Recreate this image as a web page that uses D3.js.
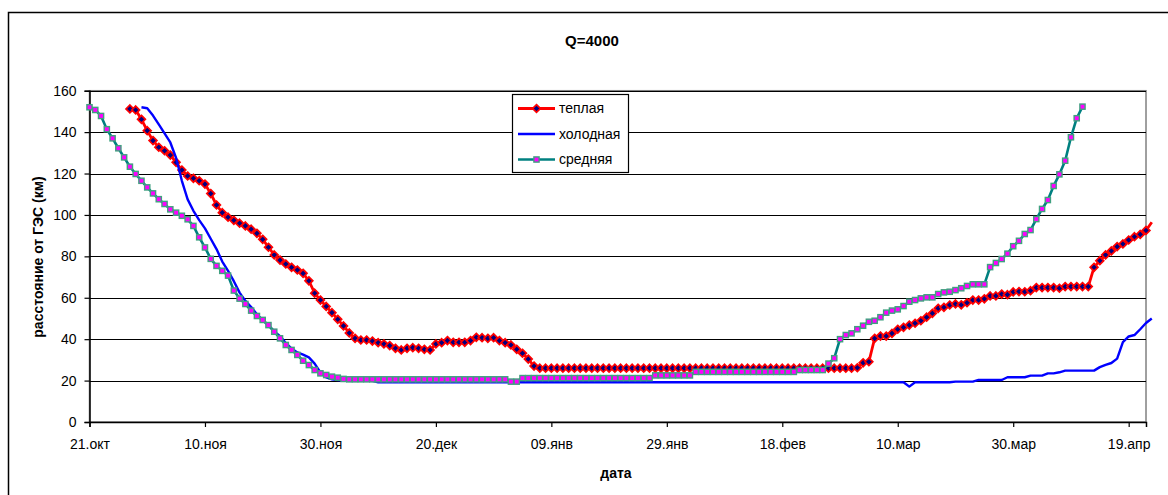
<!DOCTYPE html>
<html><head><meta charset="utf-8">
<script src="https://cdn.jsdelivr.net/npm/d3@7"></script>
<style>
body{margin:0;background:#fff}
svg{display:block}
text{font-family:"Liberation Sans",Arial,sans-serif;fill:#000}
</style>
</head><body>
<svg id="chart" width="1168" height="495"></svg>
<script>
// ---------- data ----------
const axisStart = "2006-10-21";
const axisDays = 183;
const tickLabels = ["21.окт","10.ноя","30.ноя","20.дек","09.янв","29.янв","18.фев","10.мар","30.мар","19.апр"];
const yTicks = [0,20,40,60,80,100,120,140,160];
const seriesNames = ["теплая","холодная","средняя"];

const warmStart = "2006-10-28";
const warm = [
151.2,150.7,146.2,140.7,135.9,132.7,131.0,128.9,125.4,121.7,
118.8,117.7,116.5,114.9,110.3,104.8,101.1,98.9,97.4,96.0,
94.7,93.1,91.1,88.2,84.4,80.7,78.2,76.3,74.7,73.4,
71.8,68.2,62.2,58.9,55.8,52.8,49.6,46.4,43.0,40.4,
39.6,39.6,39.1,38.3,37.7,36.9,35.6,34.8,35.6,35.9,
35.6,35.1,34.8,37.7,38.3,39.3,38.5,38.5,38.5,39.3,
40.9,40.7,40.4,40.7,39.3,38.3,37.2,35.1,33.2,30.4,
27.0,
26.0,26.0,26.0,26.0,26.0,26.0,26.0,26.0,26.0,26.0,
26.0,26.0,26.0,26.0,26.0,26.0,26.0,26.0,26.0,26.0,
26.0,26.0,26.0,26.0,26.0,26.0,26.0,26.0,26.0,26.0,
26.0,26.0,26.0,26.0,26.0,26.0,26.0,26.0,26.0,26.0,
26.0,26.0,26.0,26.0,26.0,26.0,26.0,26.0,26.0,26.0,
26.0,26.0,26.0,26.0,26.0,
26.2,28.6,29.1,40.4,41.5,41.5,42.8,44.8,45.7,46.8,
47.7,48.9,50.6,52.5,54.9,55.4,56.5,57.0,56.6,57.6,
58.9,58.9,59.5,60.9,60.9,61.8,61.5,62.8,63.0,62.9,
63.4,64.9,64.9,64.9,64.9,64.6,65.4,65.4,65.4,65.4,
65.4,74.7,77.9,80.7,82.6,84.7,86.0,87.9,89.5,90.6,92.5,96.5
];

const coldStart = "2006-10-30";
const cold = [
152,151.5,148,143.7,139.4,135.0,127.5,116.5,107.5,102,
97.5,93.5,88.5,83.5,77.5,73,68,62.5,58.5,55.5,
52,49.2,46.6,43.8,41.5,38.2,35.5,33.6,32.5,31.2,
28.2,24.0,21.6,20.6,20.2,20.0,
19.9,19.9,19.9,19.9,19.9,
19.2,19.2,19.2,19.2,19.2,19.2,19.2,19.2,19.2,19.2,
19.2,19.2,19.2,19.2,19.2,19.2,19.2,19.2,19.2,19.2,
19.2,19.2,19.2,19.2,19.2,19.2,19.2,19.2,19.2,19.2,
19.2,19.2,19.2,19.2,19.2,19.2,19.2,19.2,19.2,19.2,
19.2,19.2,19.2,19.2,19.2,19.2,19.2,19.2,19.2,19.2,
19.2,19.2,19.2,19.2,19.2,19.2,19.2,19.2,19.2,19.2,
19.2,19.2,19.2,19.2,19.2,19.2,19.2,19.2,19.2,19.2,
19.2,19.2,19.2,19.2,19.2,19.2,19.2,19.2,19.2,19.2,
19.2,19.2,19.2,19.2,19.2,19.2,19.2,19.2,19.2,19.2,
19.2,19.2,
17.1,
19.2,19.2,19.2,19.2,19.2,19.2,19.2,
19.5,19.5,19.5,19.5,
20.3,20.3,20.3,20.3,20.3,
21.6,21.6,21.6,21.6,
22.4,22.4,22.4,
23.5,23.5,
24.0,
24.8,24.8,24.8,24.8,24.8,24.8,
26.5,27.6,28.5,30.6,38.6,41.3,42.0,44.8,47.8,50.0
];

const avgStart = "2006-10-21";
const avg = [
152.0,150.7,147.8,141.4,137.0,132.2,127.8,123.3,119.8,116.5,
113.3,110.4,107.6,105.3,102.7,101.1,99.6,97.9,94.7,89.2,
84.3,78.8,75.4,73.0,70.7,63.5,59.6,57.0,53.8,51.2,
49.3,46.8,43.6,40.4,37.2,34.8,32.4,29.6,27.5,25.1,
23.5,22.7,21.9,21.4,20.8,
20.6,20.6,20.6,20.6,20.6,20.6,20.6,20.6,20.6,20.6,
20.6,20.6,20.6,20.6,20.6,20.6,20.6,20.6,20.6,20.6,
20.6,20.6,20.6,20.6,20.6,20.6,20.6,20.6,
19.5,19.5,
21.2,21.2,21.2,21.2,21.2,21.2,21.2,21.2,21.2,21.2,
21.2,21.2,21.2,21.2,21.2,21.2,21.2,21.2,21.2,21.2,
21.2,21.2,21.2,
22.5,22.5,22.5,22.5,22.5,22.5,22.5,
24.2,24.2,24.2,24.2,24.2,24.2,24.2,24.2,24.2,24.2,
24.2,24.2,24.2,24.2,24.2,24.2,24.2,24.2,
25.1,25.1,25.1,25.1,25.1,
28.2,30.8,40.0,42.0,42.8,44.8,46.5,48.4,48.9,50.6,
52.8,53.8,54.4,56.0,58.1,58.9,59.7,60.2,60.2,61.8,
62.6,62.9,63.7,64.6,65.7,66.5,66.5,66.5,74.8,76.8,
78.7,81.3,84.9,87.5,90.8,92.7,98.0,102.9,107.2,114.0,
119.6,126.2,137.5,146.7,152.3
];

// ---------- drawing ----------
const svg = d3.select("#chart");
const parse = d3.utcParse("%Y-%m-%d");
const t0 = parse(axisStart);
const toSeries = (startStr, vals) => {
  const s = parse(startStr);
  return vals.map((v, i) => ({date: d3.utcDay.offset(s, i), v}));
};

const plot = {left: 89.5, right: 1146, top: 90.7, bottom: 422};
const x = d3.scaleUtc().domain([t0, d3.utcDay.offset(t0, axisDays)]).range([plot.left, plot.right]);
const y = d3.scaleLinear().domain([0, 160]).range([plot.bottom, plot.top]);
const FONT = "Liberation Sans, Arial, sans-serif";

// outer chart border
svg.append("rect").attr("x", 8.5).attr("y", 12.5).attr("width", 1200).attr("height", 520)
  .attr("fill", "#fff").attr("stroke", "#000").attr("stroke-width", 1.5);

// title
svg.append("text").attr("x", 592).attr("y", 46).attr("text-anchor", "middle")
  .attr("font-size", 15).attr("font-weight", "bold").text("Q=4000");

// plot area border (gray)
svg.append("rect").attr("x", plot.left).attr("y", plot.top)
  .attr("width", plot.right - plot.left).attr("height", plot.bottom - plot.top)
  .attr("fill", "none").attr("stroke", "#808080").attr("stroke-width", 1.5);

// gridlines
svg.append("g").selectAll("line").data(yTicks.filter(d => d > 0)).join("line")
  .attr("x1", plot.left).attr("x2", plot.right)
  .attr("y1", d => Math.round(y(d)) + 0.5).attr("y2", d => Math.round(y(d)) + 0.5)
  .attr("stroke", "#000").attr("stroke-width", 1.2);

// y axis
const yAxis = d3.axisLeft(y).tickValues(yTicks).tickSize(5).tickPadding(8).tickFormat(d3.format("d"));
const gy = svg.append("g").attr("transform", `translate(${plot.left},0)`).call(yAxis);
gy.select(".domain").attr("stroke", "#000").attr("stroke-width", 1.5);
gy.selectAll(".tick line").attr("stroke", "#000").attr("stroke-width", 1.2);
gy.selectAll(".tick text").attr("font-size", 14).attr("font-family", FONT).attr("fill", "#000");

// x axis
const xTickVals = tickLabels.map((_, i) => d3.utcDay.offset(t0, i * 20));
const xAxis = d3.axisBottom(x).tickValues(xTickVals).tickSize(5).tickPadding(12)
  .tickFormat((d, i) => tickLabels[i]);
const gx = svg.append("g").attr("transform", `translate(0,${plot.bottom})`).call(xAxis);
gx.select(".domain").attr("stroke", "#000").attr("stroke-width", 1.5);
gx.selectAll(".tick line").attr("stroke", "#000").attr("stroke-width", 1.2);
gx.selectAll(".tick text").attr("font-size", 14).attr("font-family", FONT).attr("fill", "#000");

// axis titles
svg.append("text").attr("transform", "translate(43,257) rotate(-90)").attr("text-anchor", "middle")
  .attr("font-size", 14).attr("font-weight", "bold").text("расстояние от ГЭС (км)");
svg.append("text").attr("x", 616).attr("y", 478).attr("text-anchor", "middle")
  .attr("font-size", 14).attr("font-weight", "bold").text("дата");

// series
const line = d3.line().x(d => x(d.date)).y(d => y(d.v));
const diamond = (cx, cy, r) => `M${cx},${cy - r}L${cx + r},${cy}L${cx},${cy + r}L${cx - r},${cy}Z`;

const warmData = toSeries(warmStart, warm);
const coldData = toSeries(coldStart, cold);
const avgData = toSeries(avgStart, avg);

// warm
svg.append("path").datum(warmData).attr("d", line).attr("fill", "none")
  .attr("stroke", "#ff0000").attr("stroke-width", 2.8).attr("stroke-linejoin", "round");
svg.append("g").selectAll("path").data(warmData.filter(d => x(d.date) <= plot.right)).join("path")
  .attr("d", d => diamond(x(d.date), y(d.v), 3.9))
  .attr("fill", "#000080").attr("stroke", "#ff0000").attr("stroke-width", 1.7);

// cold
svg.append("path").datum(coldData).attr("d", line).attr("fill", "none")
  .attr("stroke", "#0000ff").attr("stroke-width", 2.4).attr("stroke-linejoin", "round");

// avg
svg.append("path").datum(avgData).attr("d", line).attr("fill", "none")
  .attr("stroke", "#008080").attr("stroke-width", 2.6).attr("stroke-linejoin", "round");
svg.append("g").selectAll("rect").data(avgData).join("rect")
  .attr("x", d => x(d.date) - 2.6).attr("y", d => y(d.v) - 2.6)
  .attr("width", 5.2).attr("height", 5.2)
  .attr("fill", "#ff00ff").attr("stroke", "#40a080").attr("stroke-width", 1.4);

// legend
const lg = svg.append("g");
lg.append("rect").attr("x", 512.5).attr("y", 94.5).attr("width", 116).attr("height", 78)
  .attr("fill", "#fff").attr("stroke", "#000").attr("stroke-width", 1.2);
const legendY = [108.5, 134, 159.5];
const lx1 = 518, lx2 = 555, lxm = 536.5;
lg.append("line").attr("x1", lx1).attr("x2", lx2).attr("y1", legendY[0]).attr("y2", legendY[0])
  .attr("stroke", "#ff0000").attr("stroke-width", 2.8);
lg.append("path").attr("d", diamond(lxm, legendY[0], 3.9)).attr("fill", "#000080")
  .attr("stroke", "#ff0000").attr("stroke-width", 1.7);
lg.append("line").attr("x1", lx1).attr("x2", lx2).attr("y1", legendY[1]).attr("y2", legendY[1])
  .attr("stroke", "#0000ff").attr("stroke-width", 2.4);
lg.append("line").attr("x1", lx1).attr("x2", lx2).attr("y1", legendY[2]).attr("y2", legendY[2])
  .attr("stroke", "#008080").attr("stroke-width", 2.6);
lg.append("rect").attr("x", lxm - 2.6).attr("y", legendY[2] - 2.6).attr("width", 5.2).attr("height", 5.2)
  .attr("fill", "#ff00ff").attr("stroke", "#40a080").attr("stroke-width", 1.4);
lg.selectAll("text.lt").data(seriesNames).join("text").attr("class", "lt")
  .attr("x", 559).attr("y", (d, i) => legendY[i]).attr("dy", "0.35em")
  .attr("font-size", 14).text(d => d);
</script>
</body></html>
